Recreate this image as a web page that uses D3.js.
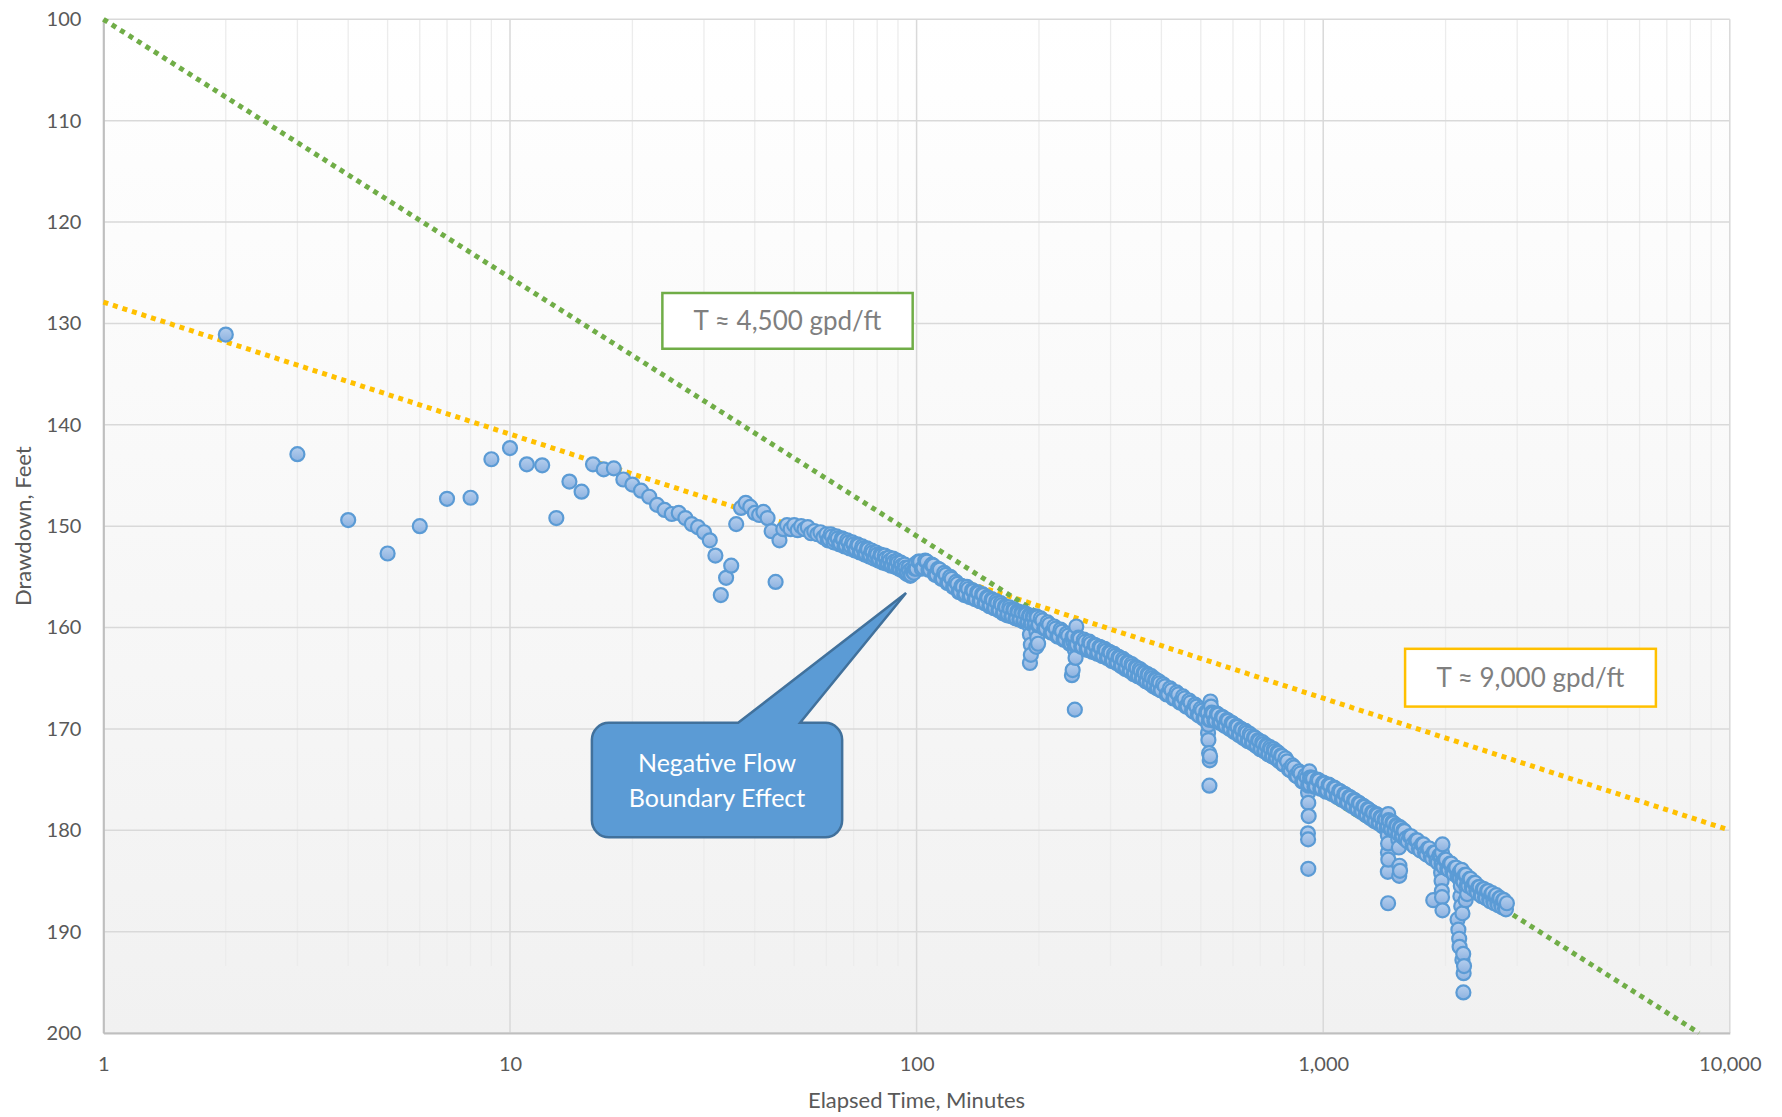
<!DOCTYPE html>
<html>
<head>
<meta charset="utf-8">
<script src="https://cdn.jsdelivr.net/npm/d3@7"></script>
<style>
  html, body { margin: 0; padding: 0; background: #ffffff; }
  svg text { font-family: Lato, "Open Sans", "Noto Sans", sans-serif; }
</style>
</head>
<body>
<svg id="chart" width="1782" height="1117"></svg>
<script>
// ---- axis ticks ----
const xTickValues = [1, 10, 100, 1000, 10000];
const yTickValues = [100, 110, 120, 130, 140, 150, 160, 170, 180, 190, 200];

// ---- straight-line fits (elapsed minutes, drawdown ft) ----
const fitEarlyMinutes = [1, 10000];          // T ≈ 9,000 gpd/ft
const fitEarlyDrawdown = [127.9, 180.0];
const fitLateMinutes = [1, 8400];            // T ≈ 4,500 gpd/ft
const fitLateDrawdown = [100.0, 200.0];

// ---- observed drawdown: first minutes ----
const earlyMinutes = [2,3,4,5,6,7,8,9,10,11,12,13,14,15,16,17,18,19,20,21,22,23,24,25,26,27,28,29,30,31,32,33,34,35,36,37,38,39,40,41,42,43,44,45,46];
const earlyDrawdown = [131.1,142.9,149.4,152.7,150.0,147.3,147.2,143.4,142.3,143.9,144.0,149.2,145.6,146.6,143.9,144.4,144.3,145.4,145.9,146.5,147.1,147.9,148.4,148.8,148.7,149.2,149.8,150.1,150.6,151.4,152.9,156.8,155.1,153.9,149.8,148.2,147.7,148.1,148.7,148.9,148.6,149.2,150.5,155.5,151.4];

// ---- observed drawdown: 47 to 200 minutes ----
const midMinutes = [47,48,49,50,51,52,53,54,55,56,57,58,59,60,61,62,63,64,65,66,67,68,69,70,71,72,73,74,75,76,77,78,79,80,81,82,83,84,85,86,87,88,89,90,91,92,93,94,95,96,97,98,99,
  100,102,104,106,108,110,112,114,116,118,120,122,124,126,128,130,132,134,136,138,140,142,144,146,148,150,152,154,156,158,160,162,164,166,168,170,172,174,176,178,180,182,184,186,188,190,192,194,196,198,200];
const midDrawdown = [150.3,149.9,150.3,149.9,150.4,150.0,150.3,150.1,150.7,150.5,150.8,150.6,151.1,150.8,151.3,151.0,151.4,151.2,151.7,151.3,151.9,151.6,152.0,151.8,152.3,151.9,152.5,152.2,152.7,152.3,152.9,152.6,153.0,152.8,153.3,152.9,153.5,153.2,153.6,153.4,153.8,153.5,154.0,153.6,154.2,153.9,154.3,154.1,154.6,154.4,154.8,154.5,154.2,
  154.2,153.5,154.1,153.5,154.3,153.9,154.8,154.3,155.2,154.8,155.6,155.2,156.0,155.7,156.5,156.0,156.7,156.2,156.9,156.4,157.2,156.6,157.4,156.8,157.6,157.1,157.8,157.3,158.1,157.6,158.3,157.8,158.5,158.0,158.7,158.2,158.9,158.3,159.1,158.5,159.2,158.6,159.3,158.7,159.5,158.9,159.6,159.0,159.6,159.0,159.7];

// ---- observed drawdown: 204 to 800 minutes ----
const lateMinutes = [204,208,212,216,220,224,228,232,236,240,244,248,252,256,260,264,268,272,276,280,284,288,292,296,300,304,308,312,316,320,324,328,332,336,340,344,348,352,356,360,364,368,372,376,380,384,388,392,396,400,
  408,416,424,432,440,448,456,464,472,480,488,496,504,512,520,528,536,544,552,560,568,576,584,592,600,608,616,624,632,640,648,656,664,672,680,688,696,704,712,720,728,736,744,752,760,768,776,784,792,800];
const lateDrawdown = [159.3,160.1,159.7,160.5,160.1,160.9,160.4,161.2,160.8,161.6,161.0,161.7,161.1,161.9,161.4,162.1,161.6,162.3,161.8,162.5,162.0,162.8,162.3,163.0,162.5,163.3,162.8,163.5,163.0,163.8,163.3,164.0,163.5,164.3,163.8,164.5,164.0,164.8,164.3,165.0,164.5,165.3,164.7,165.5,165.0,165.7,165.2,166.0,165.5,166.2,
  165.8,166.6,166.2,167.0,166.6,167.4,167.0,167.8,167.4,168.3,167.8,168.7,168.2,169.0,168.4,169.1,168.5,169.2,168.6,169.3,168.9,169.7,169.2,170.0,169.5,170.3,169.8,170.6,170.1,170.9,170.4,171.2,170.7,171.4,170.9,171.7,171.2,172.0,171.5,172.2,171.7,172.5,172.0,172.7,172.2,172.9,172.4,173.2,172.7,173.5];

// ---- observed drawdown: 816 to 2830 minutes ----
const endMinutes = [816,832,848,864,880,896,912,928,944,960,976,992,1008,1024,1040,1056,1072,1088,1104,1120,1136,1152,1168,1184,1200,1216,1232,1248,1264,1280,1296,1312,1328,1344,1360,1376,1392,1408,1424,1440,1456,1472,1488,1504,1520,1536,1552,1568,1584,1600,
  1630,1660,1690,1720,1750,1780,1810,1840,1870,1900,1930,1960,1990,2020,2050,2080,2110,2140,2170,2200,2230,2260,2290,2320,2350,2380,2410,2440,2470,2500,2530,2560,2590,2620,2650,2680,2710,2740,2770,2800,2830];
const endDrawdown = [173.2,174.1,173.8,174.7,174.4,175.2,174.8,175.5,174.9,175.7,175.1,175.9,175.4,176.1,175.6,176.4,175.9,176.7,176.2,177.0,176.5,177.3,176.8,177.6,177.1,177.9,177.4,178.2,177.7,178.5,178.0,178.8,178.3,179.1,178.5,179.3,178.8,179.6,179.0,179.7,179.1,179.9,179.3,180.1,179.6,180.4,179.8,180.6,180.1,180.8,
  180.6,181.4,181.0,181.8,181.4,182.2,181.8,182.6,182.2,183.0,182.5,183.4,182.9,183.8,183.3,184.1,183.7,184.5,184.1,184.9,184.4,185.3,184.8,185.6,185.2,186.0,185.6,186.4,185.8,186.6,186.0,186.8,186.3,187.0,186.5,187.2,186.7,187.4,186.9,187.7,187.2];

// ---- intermediate readings between the ones above ----
const interMinutes = [60.5,61.5,62.5,63.5,64.5,65.5,66.5,67.5,68.5,69.5,70.5,71.5,72.5,73.5,74.5,75.5,76.5,77.5,78.5,79.5,80.5,81.5,82.5,83.5,84.5,85.5,86.5,87.5,88.5,89.5,90.5,91.5,92.5,93.5,94.5,95.5,96.5,97.5,98.5,99.5,
  101,103,105,107,109,111,113,115,117,119,121,123,125,127,129,131,133,135,137,139,141,143,145,147,149,151,153,155,157,159,161,163,165,167,169,171,173,175,177,179,181,183,185,187,189,191,193,195,197,199,
  202,206,210,214,218,222,226,230,234,238,242,246,250,254,258,262,266,270,274,278,282,286,290,294,298,302,306,310,314,318,322,326,330,334,338,342,346,350,354,358,362,366,370,374,378,382,386,390,394,398,
  404,412,420,428,436,444,452,460,468,476,484,492,500,508,516,524,532,540,548,556,564,572,580,588,596,604,612,620,628,636,644,652,660,668,676,684,692,700,708,716,724,732,740,748,756,764,772,780,788,796,
  808,824,840,856,872,888,904,920,936,952,968,984,1000,1016,1032,1048,1064,1080,1096,1112,1128,1144,1160,1176,1192,1208,1224,1240,1256,1272,1288,1304,1320,1336,1352,1368,1384,1400,1416,1432,1448,1464,1480,1496,1512,1528,1544,1560,1576,1592,
  1615,1645,1675,1705,1735,1765,1795,1825,1855,1885,1915,1945,1975,2005,2035,2065,2095,2125,2155,2185,2215,2245,2275,2305,2335,2365,2395,2425,2455,2485,2515,2545,2575,2605,2635,2665,2695,2725,2755,2785,2815];
const interDrawdown = [151.4,150.8,151.6,151.0,151.8,151.2,152.0,151.4,152.2,151.6,152.4,151.8,152.6,152.0,152.8,152.2,153.0,152.4,153.2,152.6,153.4,152.8,153.6,152.9,153.7,153.1,153.9,153.2,154.0,153.4,154.2,153.6,154.4,153.8,154.7,154.1,154.9,154.2,154.6,153.7,
  153.5,154.2,153.4,154.3,153.8,154.8,154.2,155.2,154.6,155.6,155.0,156.0,155.5,156.5,155.9,156.8,156.0,157.0,156.3,157.2,156.5,157.4,156.7,157.6,157.0,157.9,157.2,158.1,157.4,158.3,157.6,158.6,157.9,158.8,158.0,158.9,158.2,159.1,158.4,159.2,158.5,159.4,158.6,159.5,158.8,159.6,158.9,159.7,158.9,159.8,
  159.1,160.1,159.5,160.5,159.9,160.9,160.2,161.2,160.6,161.6,160.9,161.8,161.0,161.9,161.2,162.2,161.4,162.4,161.7,162.6,161.9,162.8,162.1,163.0,162.4,163.3,162.6,163.5,162.9,163.8,163.1,164.1,163.4,164.3,163.6,164.6,163.9,164.8,164.1,165.0,164.4,165.3,164.6,165.5,164.8,165.8,165.1,166.0,165.3,166.2,
  165.6,166.6,166.0,167.0,166.4,167.4,166.8,167.8,167.2,168.2,167.6,168.6,168.0,169.0,168.3,169.1,168.4,169.2,168.5,169.4,168.8,169.7,169.1,170.0,169.4,170.3,169.7,170.6,170.0,170.9,170.2,171.2,170.5,171.4,170.8,171.7,171.1,172.0,171.3,172.2,171.6,172.5,171.8,172.7,172.0,172.9,172.3,173.2,172.6,173.5,
  172.9,174.0,173.6,174.6,174.2,175.2,174.6,175.5,174.8,175.7,175.0,175.9,175.3,176.2,175.5,176.4,175.8,176.7,176.1,177.0,176.4,177.3,176.7,177.6,177.0,177.9,177.3,178.2,177.6,178.5,177.9,178.8,178.2,179.1,178.4,179.3,178.7,179.6,178.9,179.8,179.0,179.9,179.2,180.1,179.5,180.4,179.7,180.6,180.0,180.9,
  181.1,180.6,181.6,181.0,182.0,181.4,182.4,181.8,182.8,182.2,183.2,182.5,183.6,182.9,183.9,183.3,184.3,183.7,184.7,184.1,185.1,184.4,185.5,184.8,185.8,185.2,186.2,185.6,186.5,185.8,186.7,186.0,187.0,186.2,187.2,186.4,187.4,186.7,187.6,186.9,187.8];

// ---- short drawdown excursions during the test ----
const dipMinutes = [190,190,191,191,190,197,198,199,197,
  247,244,243,245,246,242,241,245,
  528,530,522,521,522,524,526,527,525,
  925,928,920,918,919,921,917,918,919,
  1445,1443,1442,1444,1443,1446,1442,1444,1530,1535,1540,1545,1538,
  1965,1960,1955,1950,1955,1958,1960,1965,1865,
  2190,2170,2180,2175,2185,2200,2140,2150,2160,2165,2210,2200,2220,2215,2212,2250,2260,2240];
const dipDrawdown = [159.9,160.7,161.7,162.7,163.5,160.4,161.0,161.6,161.9,
  159.9,160.8,161.4,162.2,163.0,164.2,164.7,168.1,
  167.3,167.8,169.6,170.4,171.1,172.4,173.1,172.7,175.6,
  174.2,174.8,175.6,176.3,177.3,178.6,180.3,180.9,183.8,
  178.4,179.6,180.5,181.3,182.2,182.9,184.1,187.2,180.9,181.7,183.5,184.0,184.5,
  181.4,182.2,183.3,184.2,185.0,186.0,186.6,187.9,186.9,
  183.9,184.8,185.5,186.5,187.5,188.2,188.8,189.8,190.7,191.5,192.2,192.8,193.4,194.1,196.0,185.6,186.3,186.9];

// ---- annotations ----
const fitLabels = [
  { text: "T \u2248 4,500 gpd/ft", color: "#70AD47", t0: 23.7, t1: 97.8, s0: 127.0, s1: 132.5 },
  { text: "T \u2248 9,000 gpd/ft", color: "#FFC000", t0: 1590, t1: 6580, s0: 162.1, s1: 167.8 }
];
const calloutLines = ["Negative Flow", "Boundary Effect"];
const callout = { t0: 15.9, t1: 65.6, s0: 169.4, s1: 180.7, baseT0: 36.4, baseT1: 51.7, tipT: 94.2, tipS: 156.6 };

// ---- layout ----
const svg = d3.select("#chart");
const plotLeft = 103.4, plotRight = 1729.8, plotTop = 19.3, plotBottom = 1033;
const x = d3.scaleLog().domain([1, 10000]).range([plotLeft, plotRight]);
const y = d3.scaleLinear().domain([100, 200]).range([plotTop, plotBottom]);

const defs = svg.append("defs");
const bg = defs.append("linearGradient").attr("id", "plotBg").attr("x1", 0).attr("y1", 0).attr("x2", 0).attr("y2", 1);
bg.append("stop").attr("offset", "0%").attr("stop-color", "#ffffff");
bg.append("stop").attr("offset", "100%").attr("stop-color", "#f1f1f1");
const mk = defs.append("linearGradient").attr("id", "markerFill").attr("x1", 0).attr("y1", 0).attr("x2", 0).attr("y2", 1);
mk.append("stop").attr("offset", "0%").attr("stop-color", "#b6cfee");
mk.append("stop").attr("offset", "100%").attr("stop-color", "#8db2e0");

svg.append("rect")
  .attr("x", plotLeft).attr("y", plotTop)
  .attr("width", plotRight - plotLeft).attr("height", plotBottom - plotTop)
  .attr("fill", "url(#plotBg)");

// minor vertical gridlines
const allXTicks = x.ticks();
const minorX = allXTicks.filter(v => !xTickValues.includes(v));
svg.append("g").selectAll("line").data(minorX).join("line")
  .attr("x1", d => x(d)).attr("x2", d => x(d))
  .attr("y1", y(100)).attr("y2", y(193.4))
  .attr("stroke", "#ececec").attr("stroke-width", 1.3);

// major gridlines
svg.append("g").selectAll("line").data(yTickValues).join("line")
  .attr("x1", plotLeft).attr("x2", plotRight)
  .attr("y1", d => y(d)).attr("y2", d => y(d))
  .attr("stroke", "#d9d9d9").attr("stroke-width", 1.5);
svg.append("g").selectAll("line").data(xTickValues).join("line")
  .attr("x1", d => x(d)).attr("x2", d => x(d))
  .attr("y1", plotTop).attr("y2", plotBottom)
  .attr("stroke", "#d9d9d9").attr("stroke-width", 1.5);

// axes
const xAxis = d3.axisBottom(x).tickValues(xTickValues).tickFormat(d3.format(",")).tickSize(0).tickPadding(24);
const yAxis = d3.axisLeft(y).tickValues(yTickValues).tickFormat(d3.format("d")).tickSize(0).tickPadding(22);
const gx = svg.append("g").attr("transform", `translate(0,${plotBottom})`).call(xAxis);
const gy = svg.append("g").attr("transform", `translate(${plotLeft},0)`).call(yAxis);
[gx, gy].forEach(g => {
  g.select(".domain").attr("stroke", "#bfbfbf").attr("stroke-width", 2);
  g.selectAll("text").attr("fill", "#595959").style("font-size", "20px");
});

// axis titles
svg.append("text")
  .attr("x", (plotLeft + plotRight) / 2).attr("y", 1108)
  .attr("text-anchor", "middle").attr("fill", "#595959").style("font-size", "22px")
  .text("Elapsed Time, Minutes");
svg.append("text")
  .attr("transform", `translate(31,${(plotTop + plotBottom) / 2}) rotate(-90)`)
  .attr("text-anchor", "middle").attr("fill", "#595959").style("font-size", "22px")
  .text("Drawdown, Feet");

// fitted straight lines
const lineGen = d3.line().x(d => x(d[0])).y(d => y(d[1]));
svg.append("path")
  .datum(d3.zip(fitEarlyMinutes, fitEarlyDrawdown))
  .attr("d", lineGen).attr("fill", "none")
  .attr("stroke", "#FFC000").attr("stroke-width", 5).attr("stroke-dasharray", "5 5");
svg.append("path")
  .datum(d3.zip(fitLateMinutes, fitLateDrawdown))
  .attr("d", lineGen).attr("fill", "none")
  .attr("stroke", "#70AD47").attr("stroke-width", 5).attr("stroke-dasharray", "5 5");

// observations, drawn in time order
const obs = []
  .concat(d3.zip(earlyMinutes, earlyDrawdown))
  .concat(d3.zip(midMinutes, midDrawdown))
  .concat(d3.zip(lateMinutes, lateDrawdown))
  .concat(d3.zip(endMinutes, endDrawdown))
  .concat(d3.zip(interMinutes, interDrawdown))
  .concat(d3.zip(dipMinutes, dipDrawdown))
  .sort((a, b) => a[0] - b[0]);
svg.append("g").selectAll("circle").data(obs).join("circle")
  .attr("cx", d => x(d[0])).attr("cy", d => y(d[1])).attr("r", 7)
  .attr("fill", "url(#markerFill)").attr("stroke", "#5b9bd5").attr("stroke-width", 2.2);

// slope labels
fitLabels.forEach(b => {
  const bx0 = x(b.t0), bx1 = x(b.t1), by0 = y(b.s0), by1 = y(b.s1);
  svg.append("rect")
    .attr("x", bx0).attr("y", by0).attr("width", bx1 - bx0).attr("height", by1 - by0)
    .attr("fill", "#ffffff").attr("stroke", b.color).attr("stroke-width", 2.5);
  svg.append("text")
    .attr("x", (bx0 + bx1) / 2).attr("y", (by0 + by1) / 2).attr("dy", "0.36em")
    .attr("text-anchor", "middle").attr("fill", "#7f7f7f").style("font-size", "26px")
    .text(b.text);
});

// callout
{
  const x0 = x(callout.t0), x1 = x(callout.t1), y0 = y(callout.s0), y1 = y(callout.s1);
  const r = 17;
  const p = d3.path();
  p.moveTo(x0 + r, y0);
  p.lineTo(x(callout.baseT0), y0);
  p.lineTo(x(callout.tipT), y(callout.tipS));
  p.lineTo(x(callout.baseT1), y0);
  p.lineTo(x1 - r, y0);
  p.arcTo(x1, y0, x1, y0 + r, r);
  p.lineTo(x1, y1 - r);
  p.arcTo(x1, y1, x1 - r, y1, r);
  p.lineTo(x0 + r, y1);
  p.arcTo(x0, y1, x0, y1 - r, r);
  p.lineTo(x0, y0 + r);
  p.arcTo(x0, y0, x0 + r, y0, r);
  p.closePath();
  svg.append("path").attr("d", p.toString())
    .attr("fill", "#5b9bd5").attr("stroke", "#41719c").attr("stroke-width", 2.5).attr("stroke-linejoin", "miter");
  const cx = (x0 + x1) / 2, cy = (y0 + y1) / 2;
  svg.append("text")
    .attr("x", cx).attr("y", cy - 17.5).attr("dy", "0.36em")
    .attr("text-anchor", "middle").attr("fill", "#ffffff").style("font-size", "25px")
    .text(calloutLines[0]);
  svg.append("text")
    .attr("x", cx).attr("y", cy + 17.5).attr("dy", "0.36em")
    .attr("text-anchor", "middle").attr("fill", "#ffffff").style("font-size", "25px")
    .text(calloutLines[1]);
}
</script>
</body>
</html>
